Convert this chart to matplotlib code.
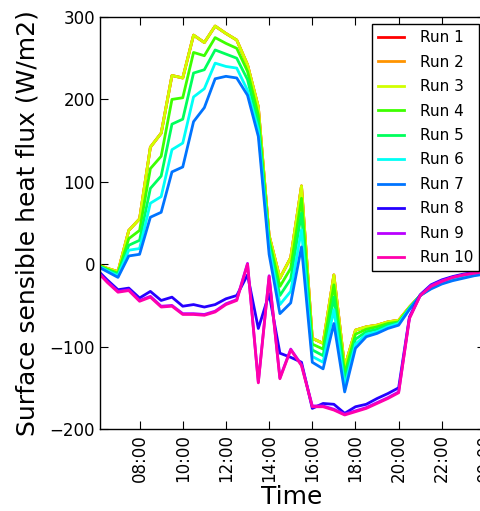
import matplotlib
matplotlib.use('Agg')

import matplotlib.dates as mdates
import matplotlib.pyplot as plt
import numpy as np
import pandas as pd


# half-hourly output, 06:00 to 24:00
times = pd.date_range('2015-06-01 06:00', '2015-06-02 00:00', freq='30min')

run_1 = [0, -5, -9, 41, 55, 142, 159, 229, 226, 278, 269, 289, 280, 272, 242, 191,
         35, -17, 8, 95, -90, -96, -13, -125, -80, -76, -74, -70, -68, -52, -38,
         -27, -21, -17, -14, -12, -10]
run_2 = [0, -5, -9, 41, 55, 142, 159, 229, 226, 278, 269, 289, 280, 272, 242, 191,
         35, -17, 8, 95, -90, -96, -13, -125, -80, -76, -74, -70, -68, -52, -38,
         -27, -21, -17, -14, -12, -10]
run_3 = [0, -5, -9, 41, 55, 142, 159, 229, 226, 278, 269, 289, 280, 272, 242, 191,
         35, -17, 8, 95, -90, -96, -13, -125, -80, -76, -74, -70, -68, -52, -38,
         -27, -21, -17, -14, -12, -10]
run_4 = [0, -6, -11, 31, 41, 116, 131, 200, 202, 257, 253, 275, 268, 262, 234, 181,
         30, -27, -5, 80, -97, -103, -25, -133, -85, -79, -76, -72, -70, -53, -38,
         -28, -22, -18, -15, -12, -11]
run_5 = [-1, -7, -12, 23, 29, 92, 107, 170, 176, 232, 236, 260, 255, 250, 224, 171,
         25, -38, -18, 62, -104, -111, -40, -140, -91, -82, -79, -74, -71, -53, -38,
         -28, -22, -18, -15, -13, -11]
run_6 = [-1, -8, -14, 17, 19, 74, 82, 139, 147, 203, 213, 244, 240, 238, 211, 163,
         20, -49, -33, 42, -112, -119, -55, -148, -97, -85, -82, -76, -72, -54, -38,
         -29, -23, -19, -16, -13, -12]
run_7 = [-2, -9, -16, 10, 12, 57, 63, 112, 118, 173, 190, 225, 228, 226, 205, 155,
         12, -60, -47, 21, -119, -127, -72, -155, -102, -88, -84, -78, -74, -55, -38,
         -30, -24, -20, -17, -14, -12]
run_8 = [-6, -19, -31, -29, -41, -33, -44, -40, -51, -49, -52, -49, -42, -38, -13, -78,
         -36, -108, -113, -119, -175, -169, -170, -181, -173, -170, -163, -157, -150, -64, -37,
         -25, -19, -15, -12, -10, -8]
run_9 = [-8, -21, -33, -31, -44, -39, -51, -50, -60, -60, -61, -57, -48, -43, 1, -143,
         -14, -138, -103, -122, -172, -172, -176, -182, -178, -174, -168, -162, -155, -65, -38,
         -26, -20, -16, -13, -10, -8]
run_10 = [-8, -22, -34, -32, -45, -40, -52, -51, -61, -61, -62, -58, -49, -44, 0, -144,
          -15, -139, -104, -123, -173, -173, -177, -183, -179, -175, -169, -163, -156, -66, -38,
          -27, -21, -16, -13, -11, -9]

runs = [run_1, run_2, run_3, run_4, run_5, run_6, run_7, run_8, run_9, run_10]
run_labels = ['Run %d' % (i + 1) for i in range(len(runs))]


def plot_runs():
    fig = plt.figure(figsize=(4.81, 5.11), dpi=100)
    # axes runs a little past the right edge, as in the cropped original
    ax = fig.add_axes([100 / 481, 82 / 511, 385 / 481, 412 / 511])

    colors = plt.cm.hsv(np.arange(len(runs)) / len(runs))
    for values, label, color in zip(runs, run_labels, colors):
        ax.plot(times, values, color=color, lw=2, label=label)

    ax.set_xlim(pd.Timestamp('2015-06-01 06:10'), pd.Timestamp('2015-06-02 00:00'))
    ax.set_ylim(-200, 300)
    ax.set_yticks([-200, -100, 0, 100, 200, 300])
    ax.xaxis.set_major_locator(mdates.HourLocator(byhour=range(0, 24, 2)))
    ax.xaxis.set_major_formatter(mdates.DateFormatter('%H:%M'))

    ax.tick_params(direction='in', top=True, right=True, length=5.5,
                   labelsize=12, width=0.8)
    for label in ax.get_xticklabels():
        label.set_rotation(90)
    for spine in ax.spines.values():
        spine.set_linewidth(1.0)

    ax.set_ylabel('Surface sensible heat flux (W/m2)', fontsize=18)
    ax.set_xlabel('Time', fontsize=18)
    ax.yaxis.set_label_coords(-0.158, 0.5)
    ax.xaxis.set_label_coords((292 - 100) / 385, -0.135)

    leg = ax.legend(loc='upper right', bbox_to_anchor=(479 / 481, 1 - 24 / 511),
                    bbox_transform=fig.transFigure, borderaxespad=0,
                    fontsize=11, fancybox=False, framealpha=1,
                    edgecolor='black', handlelength=1.7, handletextpad=1.0,
                    labelspacing=0.62)
    leg.get_frame().set_linewidth(1.0)

    fig.savefig('out.png', dpi=100)


if __name__ == '__main__':
    plot_runs()
